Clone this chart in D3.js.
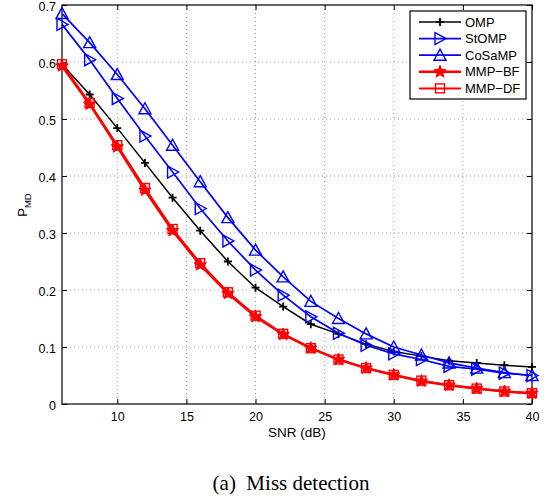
<!DOCTYPE html>
<html><head><meta charset="utf-8">
<script src="https://cdn.jsdelivr.net/npm/d3@7"></script>
<style>body{margin:0;background:#fff}svg{display:block}</style>
</head><body>
<script>
const snr = [6,8,10,12,14,16,18,20,22,24,26,28,30,32,34,36,38,40];
const omp    = [0.596,0.543,0.484,0.423,0.362,0.304,0.250,0.204,0.171,0.140,0.123,0.105,0.092,0.084,0.076,0.072,0.068,0.065];
const stomp  = [0.666,0.604,0.536,0.470,0.407,0.343,0.286,0.235,0.191,0.153,0.124,0.103,0.088,0.078,0.066,0.061,0.054,0.050];
const cosamp = [0.685,0.634,0.578,0.518,0.454,0.390,0.327,0.270,0.223,0.180,0.150,0.123,0.100,0.086,0.072,0.063,0.055,0.050];
const mmpbf  = [0.593,0.526,0.451,0.375,0.304,0.244,0.194,0.153,0.122,0.098,0.078,0.063,0.051,0.040,0.033,0.027,0.022,0.019];
const mmpdf  = [0.596,0.528,0.454,0.379,0.307,0.247,0.196,0.155,0.123,0.098,0.078,0.063,0.051,0.041,0.033,0.027,0.022,0.019];
const seriesNames = ["OMP","StOMP","CoSaMP","MMP\u2212BF","MMP\u2212DF"];
const xTicks = [10,15,20,25,30,35,40];
const yTicks = [0,0.1,0.2,0.3,0.4,0.5,0.6,0.7];

const series = [
  {name:seriesNames[0], vals:omp,    color:"#000", lw:1.5, marker:"plus"},
  {name:seriesNames[1], vals:stomp,  color:"#0000ff", lw:1.7, marker:"tri-right"},
  {name:seriesNames[2], vals:cosamp, color:"#0000ff", lw:1.7, marker:"tri-up"},
  {name:seriesNames[3], vals:mmpbf,  color:"#ff0000", lw:2.5, marker:"star"},
  {name:seriesNames[4], vals:mmpdf,  color:"#ff0000", lw:2.0, marker:"square"}
];

const W=547,H=499;
const m={l:62,r:15,t:5,b:95};
const pw=532-62, ph=404-5;
const svg=d3.select("body").append("svg").attr("width",W).attr("height",H);
const g=svg.append("g").attr("transform",`translate(${m.l},${m.t})`);
const x=d3.scaleLinear().domain([6,40]).range([0,pw]);
const y=d3.scaleLinear().domain([0,0.7]).range([ph,0]);

// grid
g.append("g").selectAll("line").data(xTicks.filter(d=>d<40)).join("line")
  .attr("x1",d=>x(d)).attr("x2",d=>x(d)).attr("y1",0).attr("y2",ph)
  .attr("stroke","#888").attr("stroke-width",0.8).attr("stroke-dasharray","1,3");
g.append("g").selectAll("line").data(yTicks.filter(d=>d>0&&d<0.7)).join("line")
  .attr("x1",0).attr("x2",pw).attr("y1",d=>y(d)).attr("y2",d=>y(d))
  .attr("stroke","#888").attr("stroke-width",0.8).attr("stroke-dasharray","1,3");

// axes
const fontFam="Liberation Sans, Arial, sans-serif";
const xa=g.append("g").attr("transform",`translate(0,${ph})`)
  .call(d3.axisBottom(x).tickValues(xTicks).tickSize(-5).tickPadding(8).tickFormat(d3.format("d")));
const ya=g.append("g").call(d3.axisLeft(y).tickValues(yTicks).tickSize(-5).tickPadding(6).tickFormat(d=>d===0?"0":d3.format(".1f")(d)));
const xt=g.append("g").call(d3.axisTop(x).tickValues(xTicks).tickSize(-5).tickFormat(""));
const yr=g.append("g").attr("transform",`translate(${pw},0)`).call(d3.axisRight(y).tickValues(yTicks).tickSize(-5).tickFormat(""));
[xa,ya,xt,yr].forEach(a=>{a.select(".domain").remove();a.selectAll("line").attr("stroke","#000");
  a.selectAll("text").attr("font-family",fontFam).attr("font-size",12.5).attr("fill","#000");});
ya.selectAll("text").attr("dy","0.4em");
g.append("rect").attr("width",pw).attr("height",ph).attr("fill","none").attr("stroke","#000").attr("stroke-width",1.2);

// markers
function drawMarker(sel, type, color, cx, cy){
  const s=sel.append("g").attr("transform",`translate(${cx},${cy})`);
  if(type==="plus"){
    s.append("path").attr("d","M-4,0H4M0,-4V4").attr("stroke",color).attr("stroke-width",1.8).attr("fill","none");
  } else if(type==="tri-right"){
    s.append("path").attr("d","M-5,-6L6,0L-5,6Z").attr("stroke",color).attr("stroke-width",1.4).attr("fill","none");
  } else if(type==="tri-up"){
    s.append("path").attr("d","M0,-6L6,5L-6,5Z").attr("stroke",color).attr("stroke-width",1.4).attr("fill","none");
  } else if(type==="star"){
    const pts=[];for(let i=0;i<10;i++){const r=i%2?2.8:6.5;const a=-Math.PI/2+i*Math.PI/5;pts.push([r*Math.cos(a),r*Math.sin(a)]);}
    s.append("path").attr("d","M"+pts.map(p=>p.join(",")).join("L")+"Z").attr("fill",color).attr("stroke",color).attr("stroke-width",1);
  } else if(type==="square"){
    s.append("rect").attr("x",-4.5).attr("y",-4.5).attr("width",9).attr("height",9).attr("fill","none").attr("stroke",color).attr("stroke-width",1.4);
  }
}

const line=d3.line().x((d,i)=>x(snr[i])).y(d=>y(d));
const draw=[0,1,2,4,3];
draw.forEach(k=>{
  const s=series[k];
  g.append("path").datum(s.vals).attr("d",line).attr("fill","none").attr("stroke",s.color).attr("stroke-width",s.lw);
  const mg=g.append("g");
  s.vals.forEach((v,i)=>drawMarker(mg,s.marker,s.color,x(snr[i]),y(v)));
});

// legend
const lg=svg.append("g");
lg.append("rect").attr("x",410).attr("y",11).attr("width",116).attr("height",88).attr("fill","#fff").attr("stroke","#000").attr("stroke-width",1.2);
series.forEach((s,i)=>{
  const ly=22+i*16.6;
  lg.append("line").attr("x1",419).attr("x2",461).attr("y1",ly).attr("y2",ly).attr("stroke",s.color).attr("stroke-width",s.lw);
  drawMarker(lg,s.marker,s.color,440,ly);
  lg.append("text").attr("x",465).attr("y",ly+4.5).attr("font-family",fontFam).attr("font-size",13).text(s.name);
});

// axis labels
svg.append("text").attr("x",m.l+pw/2).attr("y",437).attr("text-anchor","middle")
  .attr("font-family",fontFam).attr("font-size",13.5).text("SNR (dB)");
const yl=svg.append("text").attr("transform","translate(27,205) rotate(-90)").attr("text-anchor","middle")
  .attr("font-family",fontFam).attr("font-size",13);
yl.append("tspan").text("P");
yl.append("tspan").attr("font-size",9.5).attr("dy",4).text("MD");

svg.append("text").attr("x",291).attr("y",490).attr("text-anchor","middle")
  .attr("font-family","Liberation Serif, Times New Roman, serif").attr("font-size",21).text("(a)\u00a0\u00a0Miss detection");
</script>
</body></html>
